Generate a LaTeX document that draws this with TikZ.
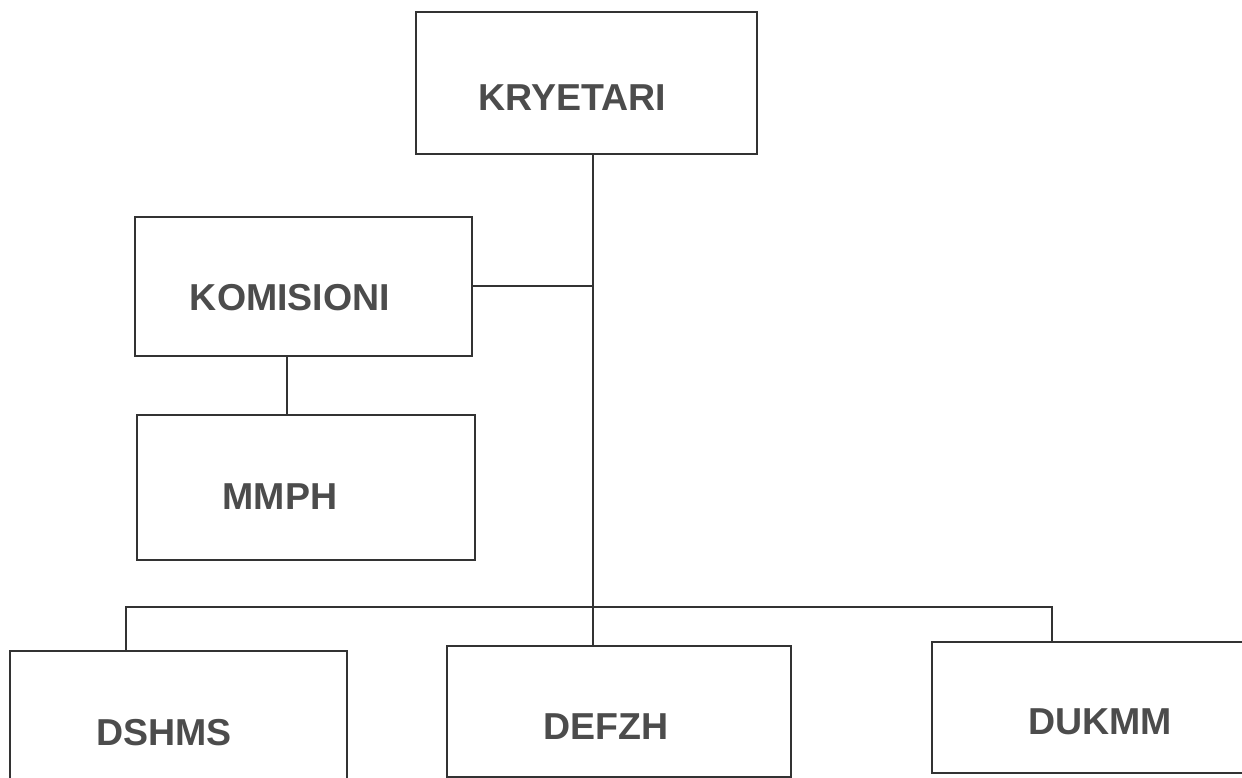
\documentclass[tikz,border=0pt]{standalone}
\usepackage{fontspec}
\setmainfont{Liberation Sans}
\begin{document}
\begin{tikzpicture}[x=1pt,y=-1pt,
  box/.style={draw=black!80, line width=1.1pt, rectangle, inner sep=0pt},
  lbl/.style={font=\fontsize{37.5}{42}\selectfont\bfseries, text=black!70, inner sep=0pt, anchor=center},
  conn/.style={draw=black!80, line width=1.1pt}]
\useasboundingbox (0,0) rectangle (1242,778);
\clip (0,0) rectangle (1242,778);
\fill[white] (0,0) rectangle (1242,778);
% boxes
\node[box, minimum width=341pt, minimum height=142pt] (kry) at (586.5,83) {};
\node[box, minimum width=337pt, minimum height=139pt] (kom) at (303.5,286.5) {};
\node[box, minimum width=338pt, minimum height=145pt] (mmph) at (306,487.5) {};
\node[box, minimum width=337pt, minimum height=169pt] (dsh) at (178.5,735.5) {};
\node[box, minimum width=344pt, minimum height=131pt] (def) at (619,711.5) {};
\node[box, minimum width=348pt, minimum height=131pt] (duk) at (1106,707.5) {};
% labels
\node[lbl] (kryt) at (572,98) {KRYETARI};
\node[lbl] (komt) at (290,298) {KOMISIONI};
\node[lbl] (mmpht) at (280,497) {MMPH};
\node[lbl] (dsht) at (164,733) {DSHMS};
\node[lbl] (deft) at (606,727) {DEFZH};
\node[lbl] (dukt) at (1100,722) {DUKMM};
% connectors
\coordinate (j1) at (593,286);
\coordinate (mx) at (287,0);
\coordinate (bl) at (126,607);
\coordinate (br) at (1052,607);
\draw[conn] (kry.south -| j1) -- (def.north -| j1);
\draw[conn] (kom.east |- j1) -- (j1);
\draw[conn] (kom.south -| mx) -- (mmph.north -| mx);
\draw[conn] (dsh.north -| bl) -- (bl) -- (br) -- (duk.north -| br);
\end{tikzpicture}
\end{document}
